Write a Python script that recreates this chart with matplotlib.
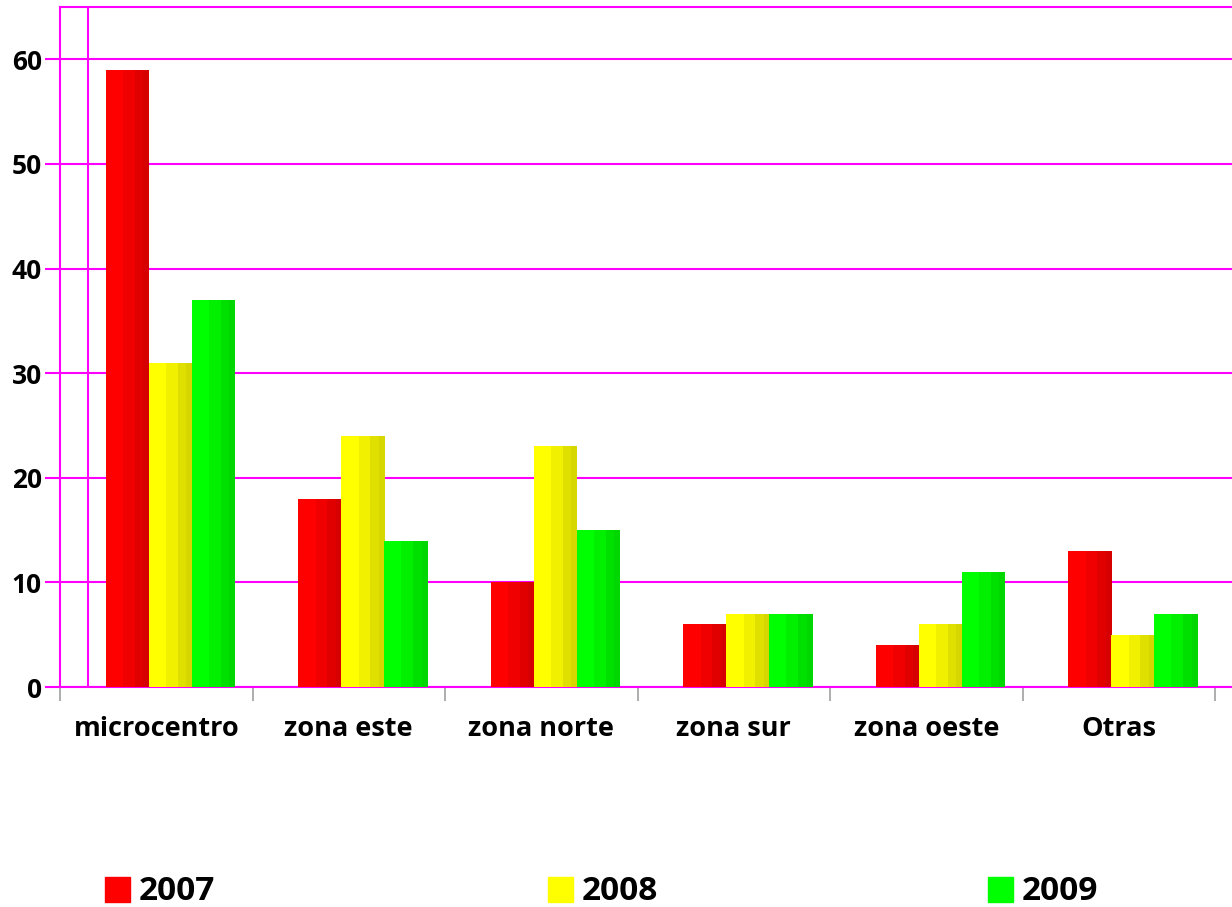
import numpy as np
import matplotlib
matplotlib.use("Agg")
import matplotlib.pyplot as plt
from matplotlib.colors import to_rgb
from matplotlib.patches import Rectangle

plt.rcParams['font.family'] = ['Open Sans', 'DejaVu Sans']

zonas = ['microcentro', 'zona este', 'zona norte', 'zona sur', 'zona oeste', 'Otras']
years = ['2007', '2008', '2009']
v2007 = [59, 18, 10, 6, 4, 13]
v2008 = [31, 24, 23, 7, 6, 5]
v2009 = [37, 14, 15, 7, 11, 7]
series = [v2007, v2008, v2009]
colors = ['#ff0000', '#ffff00', '#00ff00']

MAGENTA = '#ff00ff'
W, H = 1232, 907

fig = plt.figure(figsize=(W / 100, H / 100), dpi=100)
ax = fig.add_axes([60 / W, 1 - 687 / H, 1 - 60 / W, (687 - 7) / H])

# bar shading: vertical stripes, lighter on the left
stripe_frac = [0.40, 0.27, 0.20, 0.13]
stripe_shade = [1.0, 0.94, 0.88, 0.84]

x = np.arange(len(zonas))
bw = 0.223
shift = 0.073
for j, (vals, col) in enumerate(zip(series, colors)):
    base = np.array(to_rgb(col))
    left = x + shift + (j - 1) * bw - bw / 2
    off = 0.0
    for frac, sh in zip(stripe_frac, stripe_shade):
        ax.bar(left + off * bw, vals, width=frac * bw + 0.002, align='edge',
               color=base * sh, linewidth=0, zorder=3)
        off += frac

ax.set_xlim(-0.5, 5.5 + 17 / 192.5)
ax.set_ylim(0, 65)
ax.set_yticks(range(0, 61, 10))
ax.set_xticks(x)
ax.set_xticklabels(zonas, fontsize=19.5, fontweight='bold')
ax.set_xticks(np.arange(-0.5, 6, 1), minor=True)
ax.tick_params(axis='x', which='major', length=0, pad=21)
ax.tick_params(axis='x', which='minor', length=10, color='#a0a0a0', width=1.2)
ax.tick_params(axis='y', length=11, color=MAGENTA, width=1.5, pad=2, labelsize=19)
for t in ax.get_yticklabels():
    t.set_fontweight('bold')

ax.grid(axis='y', color=MAGENTA, linewidth=1.5, zorder=1)
ax.axvline(-0.5 + 28 / 192.5, color=MAGENTA, linewidth=1.5, zorder=1)
for s in ['left', 'top', 'bottom']:
    ax.spines[s].set_color(MAGENTA)
    ax.spines[s].set_linewidth(1.5)
ax.spines['right'].set_visible(False)

# legend along the bottom
leg_x = [105, 548, 988]
for yr, col, lx in zip(years, colors, leg_x):
    fig.add_artist(Rectangle((lx / W, 1 - 902 / H), 25 / W, 25 / H,
                             transform=fig.transFigure, color=col))
    fig.text((lx + 34) / W, 1 - 900 / H, yr, fontsize=24, fontweight='bold',
             va='baseline', ha='left')

fig.savefig('out.png', dpi=100)
